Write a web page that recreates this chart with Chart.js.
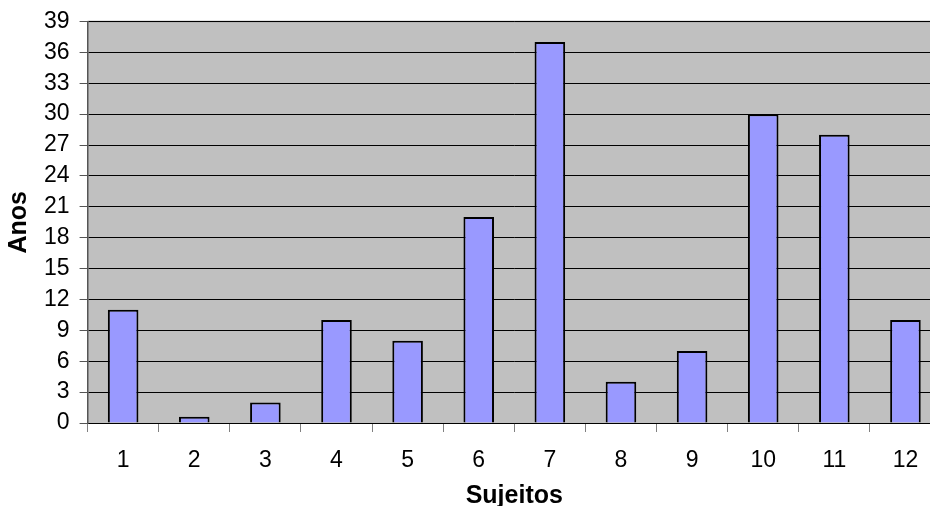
<!DOCTYPE html>
<html>
<head>
<meta charset="utf-8">
<script src="https://cdn.jsdelivr.net/npm/chart.js@4/dist/chart.umd.min.js"></script>
<style>
  html, body { margin: 0; padding: 0; background: #fff; overflow: hidden; }
  .wrap { width: 941px; height: 506px; }
</style>
</head>
<body>
<div class="wrap"><canvas id="chart"></canvas></div>
<script>
const sujeitos = ['1', '2', '3', '4', '5', '6', '7', '8', '9', '10', '11', '12'];
const anos = [11, 0.6, 2, 10, 8, 20, 37, 4, 7, 30, 28, 10];

// grey plot area like the old excel look
const plotBg = {
    id: 'plotBg',
    beforeDraw(chart) {
        const { ctx, chartArea: a } = chart;
        ctx.save();
        ctx.fillStyle = '#c0c0c0';
        ctx.fillRect(a.left, a.top, a.right - a.left, a.bottom - a.top);
        ctx.strokeStyle = '#909090';
        ctx.lineWidth = 1.5;
        ctx.beginPath();
        ctx.moveTo(a.left, a.top);
        ctx.lineTo(a.right, a.top);
        ctx.stroke();
        ctx.restore();
    }
};

const font = { family: 'Liberation Sans, Arial, sans-serif', size: 23, lineHeight: 1 };
const titleFont = { family: 'Liberation Sans, Arial, sans-serif', size: 25, weight: 'bold', lineHeight: 1 };

new Chart(document.getElementById('chart'), {
    type: 'bar',
    data: {
        labels: sujeitos,
        datasets: [{
            data: anos,
            backgroundColor: '#9999ff',
            borderColor: '#000',
            borderWidth: 2,
            barPercentage: 0.43,
            categoryPercentage: 1
        }]
    },
    options: {
        responsive: true,
        maintainAspectRatio: false,
        animation: false,
        layout: { padding: { top: 10, right: 0, left: 7, bottom: 0 } },
        plugins: { legend: { display: false }, tooltip: { enabled: false } },
        scales: {
            x: {
                afterFit: function (scale) {
                    scale.height = 83;
                },
                grid: { drawOnChartArea: false, color: '#808080', tickLength: 9, offset: true },
                border: { color: '#000', width: 1 },
                ticks: { color: '#000', font: font, padding: 17 },
                title: { display: true, text: 'Sujeitos', color: '#000', font: { ...titleFont, lineHeight: 0.8 }, padding: { top: 0, bottom: 0 } }
            },
            y: {
                min: 0,
                max: 39,
                ticks: { stepSize: 3, autoSkip: false, color: '#000', font: font, padding: 10 },
                grid: { color: '#000', tickColor: '#555', tickLength: 8 },
                border: { color: '#555', width: 1.5 },
                title: { display: true, text: 'Anos', color: '#000', font: titleFont, padding: { top: 0, bottom: 2 } }
            }
        }
    },
    plugins: [plotBg]
});
</script>
</body>
</html>
